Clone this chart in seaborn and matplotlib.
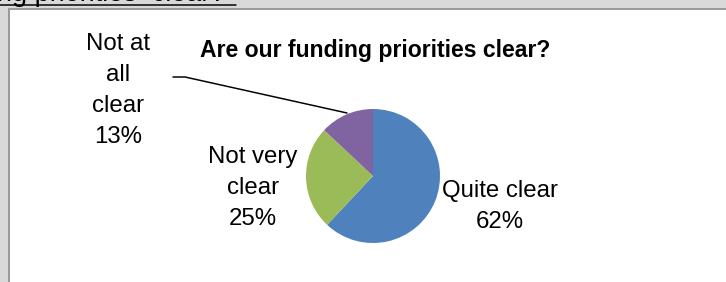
import matplotlib
matplotlib.use('Agg')
import matplotlib.pyplot as plt
import seaborn as sns
from matplotlib.patches import Rectangle

# data
categories = ['Quite clear', 'Not very clear', 'Not at all clear']
shares = [62, 25, 13]
wrapped_names = ['Quite clear', 'Not very\nclear', 'Not at\nall\nclear']
slice_colors = ['#4F81BD', '#9BBB59', '#8064A2']
title = 'Are our funding priorities clear?'
page_heading = 'ng priorities  clear?'

sns.set_style('white')
plt.rcParams['font.family'] = ['Liberation Sans', 'DejaVu Sans']
plt.rcParams['text.color'] = 'black'

W, H = 726, 282
fig = plt.figure(figsize=(W / 100, H / 100), dpi=100)
fig.patch.set_facecolor('#d9d9d9')
ax = fig.add_axes([0, 0, 1, 1])

px = lambda v: v * 0.72  # pixels -> points

# pie, drawn clockwise from 12 o'clock like the Excel original
palette = sns.color_palette(slice_colors)
wedges, _ = ax.pie(shares, colors=palette, startangle=90, counterclock=False,
                   center=(373, H - 176), radius=67, wedgeprops={'linewidth': 0})
for w in wedges:
    w.set_zorder(3)

ax.set_xlim(0, W)
ax.set_ylim(0, H)
ax.set_aspect('auto')
ax.set_position([0, 0, 1, 1])
ax.axis('off')

# white chart area with its grey frame
ax.add_patch(Rectangle((9, -10), W, H - 9 + 10 - 1, facecolor='white', edgecolor='none', zorder=0))
ax.plot([8, W + 5], [H - 9, H - 9], color='#9a9a9a', lw=px(2), zorder=1, solid_capstyle='butt')
ax.plot([8.5, 8.5], [-5, H - 9], color='#9a9a9a', lw=px(2), zorder=1, solid_capstyle='butt')

# heading of the page above, mostly cut off
ax.text(-3, H - 1, page_heading, fontsize=px(27), ha='left', va='baseline', color='black', zorder=2)
ax.plot([0, 236], [H - 5, H - 5], color='black', lw=px(1.5), zorder=2)

# chart title
ax.text(375, H - 57, title, fontsize=px(23), fontweight='bold', ha='center', va='baseline',
        color='black', zorder=4)

# data labels (baseline of the last line)
label_pos = [(500, 228), (253, 225), (118, 143)]
for name, v, (lx, ly) in zip(wrapped_names, shares, label_pos):
    ax.text(lx, H - ly, f'{name}\n{v}%', fontsize=px(24), ha='center', va='baseline',
            linespacing=1.52, color='black', zorder=4)

# leader line for the small slice
ax.plot([173, 185, 347], [H - 77, H - 77, H - 113], color='black', lw=px(1.5), zorder=4)

fig.savefig('out.png', dpi=100, facecolor=fig.get_facecolor())
